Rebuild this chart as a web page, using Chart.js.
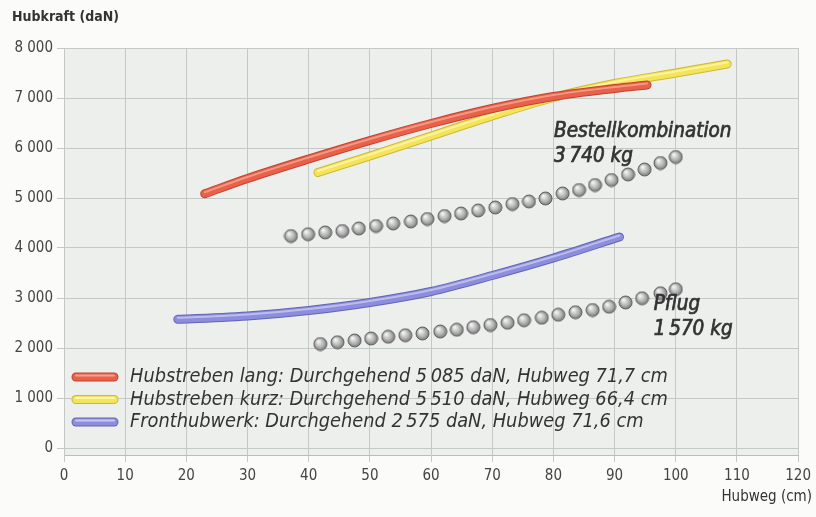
<!DOCTYPE html>
<html>
<head>
<meta charset="utf-8">
<script src="https://cdn.jsdelivr.net/npm/chart.js@4/dist/chart.umd.min.js"></script>
<style>
  html, body { margin: 0; padding: 0; background: #fbfbfa; }
  #wrap { width: 816px; height: 517px; position: relative; }
</style>
</head>
<body>
<div id="wrap"><canvas id="chart"></canvas></div>
<script>
// Hubkraft (daN) over Hubweg (cm)
const xTicks = [0, 10, 20, 30, 40, 50, 60, 70, 80, 90, 100, 110, 120];
const yTicks = [0, 1000, 2000, 3000, 4000, 5000, 6000, 7000, 8000];

const langX = [23, 30, 40, 50, 60, 70, 80, 90, 95.3];
const langY = [5085, 5390, 5780, 6150, 6490, 6790, 7030, 7190, 7260];

const kurzX = [41.5, 50, 60, 70, 80, 90, 100, 108.4];
const kurzY = [5510, 5840, 6240, 6640, 7010, 7290, 7500, 7680];

const frontX = [18.6, 20, 30, 40, 50, 60, 70, 80, 90.8];
const frontY = [2575, 2580, 2640, 2750, 2910, 3130, 3450, 3800, 4220];

const bestellX = [37.1, 39.9, 42.7, 45.5, 48.2, 51.0, 53.8, 56.7, 59.4, 62.2, 64.9, 67.7,
                  70.5, 73.3, 76.0, 78.7, 81.5, 84.2, 86.8, 89.5, 92.2, 94.9, 97.5, 100.0];
const bestellY = [4240, 4275, 4310, 4340, 4390, 4440, 4490, 4530, 4580, 4640, 4690, 4750,
                  4810, 4880, 4930, 4990, 5090, 5160, 5260, 5360, 5470, 5570, 5700, 5820];

const pflugX = [41.9, 44.7, 47.5, 50.2, 53.0, 55.8, 58.6, 61.5, 64.2, 66.9, 69.7, 72.5,
                75.2, 78.1, 80.8, 83.6, 86.4, 89.1, 91.8, 94.5, 97.5, 100.0];
const pflugY = [2080, 2115, 2150, 2190, 2225, 2255, 2290, 2330, 2365, 2415, 2460, 2505,
                2555, 2605, 2665, 2715, 2760, 2825, 2910, 2995, 3095, 3175];

const legendLabels = [
  'Hubstreben lang: Durchgehend 5\u2009085 daN, Hubweg 71,7 cm',
  'Hubstreben kurz: Durchgehend 5\u2009510 daN, Hubweg 66,4 cm',
  'Fronthubwerk: Durchgehend 2\u2009575 daN, Hubweg 71,6 cm'
];
const notes = [
  { text: ['Bestellkombination', '3\u2009740 kg'], x: 80.1, y: 6320 },
  { text: ['Pflug', '1\u2009570 kg'], x: 96.4, y: 2860 }
];

const FONT = "'Liberation Sans Narrow', 'DejaVu Sans Condensed', 'Open Sans', sans-serif";

function pts(xs, ys) {
    return xs.map((x, i) => ({ x: x, y: ys[i] }));
}

function makeBall(r) {
    const c = document.createElement('canvas');
    const s = r * 2 + 2;
    c.width = s; c.height = s;
    const g = c.getContext('2d');
    const grad = g.createRadialGradient(s / 2 - r * 0.35, s / 2 - r * 0.4, r * 0.1, s / 2, s / 2, r);
    grad.addColorStop(0, '#f4f4f4');
    grad.addColorStop(0.6, '#b4b4b4');
    grad.addColorStop(1, '#7a7a7a');
    g.beginPath();
    g.arc(s / 2, s / 2, r, 0, Math.PI * 2);
    g.fillStyle = grad;
    g.fill();
    g.lineWidth = 1;
    g.strokeStyle = '#5e5e5e';
    g.stroke();
    return c;
}
const ball = makeBall(6.5);

const tubes = [
    { color: '#e8614a', edge: '#c0432f', light: '#f5a690' },
    { color: '#f4e45a', edge: '#cdb933', light: '#fcf6b0' },
    { color: '#8c8ddc', edge: '#6264b4', light: '#c8c9f3' }
];

const plotBg = {
    id: 'plotBg',
    beforeDraw(chart) {
        const a = chart.chartArea, ctx = chart.ctx;
        ctx.save();
        ctx.fillStyle = '#edefed';
        ctx.fillRect(a.left, a.top, a.right - a.left, a.bottom - a.top);
        ctx.restore();
    }
};

const tubeLook = {
    id: 'tubeLook',
    beforeDatasetDraw(chart, args) {
        const ds = chart.data.datasets[args.index];
        if (ds.tube === undefined) return;
        const ctx = chart.ctx;
        const meta = chart.getDatasetMeta(args.index);
        ctx.save();
        ctx.lineCap = 'round';
        ctx.lineJoin = 'round';
        ctx.strokeStyle = tubes[ds.tube].edge;
        ctx.lineWidth = 9;
        ctx.beginPath();
        meta.dataset.path(ctx);
        ctx.stroke();
        ctx.restore();
    },
    afterDatasetDraw(chart, args) {
        const ds = chart.data.datasets[args.index];
        if (ds.tube === undefined) return;
        const ctx = chart.ctx;
        const meta = chart.getDatasetMeta(args.index);
        ctx.save();
        ctx.translate(0, -1.5);
        ctx.lineCap = 'round';
        ctx.strokeStyle = tubes[ds.tube].light;
        ctx.globalAlpha = 0.8;
        ctx.lineWidth = 2;
        ctx.beginPath();
        meta.dataset.path(ctx);
        ctx.stroke();
        ctx.restore();
    }
};

const extras = {
    id: 'extras',
    afterDraw(chart) {
        const ctx = chart.ctx;
        const xs = chart.scales.x, ys = chart.scales.y;
        ctx.save();
        ctx.fillStyle = '#333';
        ctx.textBaseline = 'middle';

        ctx.font = 'bold 14px ' + FONT;
        ctx.textAlign = 'left';
        ctx.fillText('Hubkraft (daN)', 12, 17);

        ctx.font = '15px ' + FONT;
        ctx.textAlign = 'right';
        ctx.fillText('Hubweg (cm)', 812, 497);

        // annotations, semi-bold look: fill plus thin stroke
        ctx.font = 'italic 20.5px ' + FONT;
        ctx.textAlign = 'left';
        ctx.strokeStyle = '#333';
        ctx.lineWidth = 0.7;
        notes.forEach(n => {
            const px = xs.getPixelForValue(n.x);
            const py = ys.getPixelForValue(n.y);
            n.text.forEach((t, i) => {
                ctx.fillText(t, px, py + i * 25);
                ctx.strokeText(t, px, py + i * 25);
            });
        });

        // legend
        ctx.font = 'italic 19.8px ' + FONT;
        legendLabels.forEach((t, i) => {
            const y = 377 + i * 22.5;
            const tb = tubes[i];
            ctx.lineCap = 'round';
            ctx.strokeStyle = tb.edge;
            ctx.lineWidth = 9;
            ctx.beginPath(); ctx.moveTo(76, y); ctx.lineTo(114, y); ctx.stroke();
            ctx.strokeStyle = tb.color;
            ctx.lineWidth = 7;
            ctx.beginPath(); ctx.moveTo(76, y); ctx.lineTo(114, y); ctx.stroke();
            ctx.strokeStyle = tb.light;
            ctx.lineWidth = 2;
            ctx.beginPath(); ctx.moveTo(76, y - 1.5); ctx.lineTo(114, y - 1.5); ctx.stroke();
            ctx.fillStyle = '#333';
            ctx.fillText(t, 130, y);
        });
        ctx.restore();
    }
};

const ctx = document.getElementById('chart').getContext('2d');

new Chart(ctx, {
    type: 'line',
    data: {
        datasets: [
            {
                label: legendLabels[0], tube: 0,
                data: pts(langX, langY),
                borderColor: tubes[0].color, borderWidth: 7,
                borderCapStyle: 'round', cubicInterpolationMode: 'monotone',
                pointRadius: 0
            },
            {
                label: legendLabels[1], tube: 1,
                data: pts(kurzX, kurzY),
                borderColor: tubes[1].color, borderWidth: 7,
                borderCapStyle: 'round', cubicInterpolationMode: 'monotone',
                pointRadius: 0
            },
            {
                label: legendLabels[2], tube: 2,
                data: pts(frontX, frontY),
                borderColor: tubes[2].color, borderWidth: 7,
                borderCapStyle: 'round', cubicInterpolationMode: 'monotone',
                pointRadius: 0
            },
            {
                label: 'Bestellkombination',
                data: pts(bestellX, bestellY),
                showLine: false, pointStyle: ball, pointRadius: 6
            },
            {
                label: 'Pflug',
                data: pts(pflugX, pflugY),
                showLine: false, pointStyle: ball, pointRadius: 6
            }
        ]
    },
    options: {
        responsive: true,
        maintainAspectRatio: false,
        animation: false,
        layout: { padding: { left: 0, top: 48, right: 16, bottom: 0 } },
        plugins: {
            legend: { display: false },
            tooltip: { enabled: false },
            title: { display: false }
        },
        scales: {
            x: {
                type: 'linear',
                min: 0, max: 120,
                afterBuildTicks: s => { s.ticks = xTicks.map(v => ({ value: v })); },
                afterFit: s => { s.height = 62; },
                grid: { color: '#c4c9c8', tickLength: 7, drawTicks: true },
                border: { color: '#b9bebd' },
                ticks: { color: '#444', padding: 5, font: { family: FONT, size: 15 }, maxRotation: 0 }
            },
            y: {
                type: 'linear',
                min: -140, max: 8000,
                afterBuildTicks: s => { s.ticks = yTicks.map(v => ({ value: v })); },
                afterFit: s => { s.width = 64; },
                grid: { color: '#c4c9c8', tickLength: 7 },
                border: { color: '#c4c9c8' },
                ticks: {
                    color: '#444', padding: 4, font: { family: FONT, size: 15 },
                    callback: v => v >= 1000 ? Math.floor(v / 1000) + ' ' + String(v % 1000).padStart(3, '0') : String(v)
                }
            }
        }
    },
    plugins: [plotBg, tubeLook, extras]
});
</script>
</body>
</html>
